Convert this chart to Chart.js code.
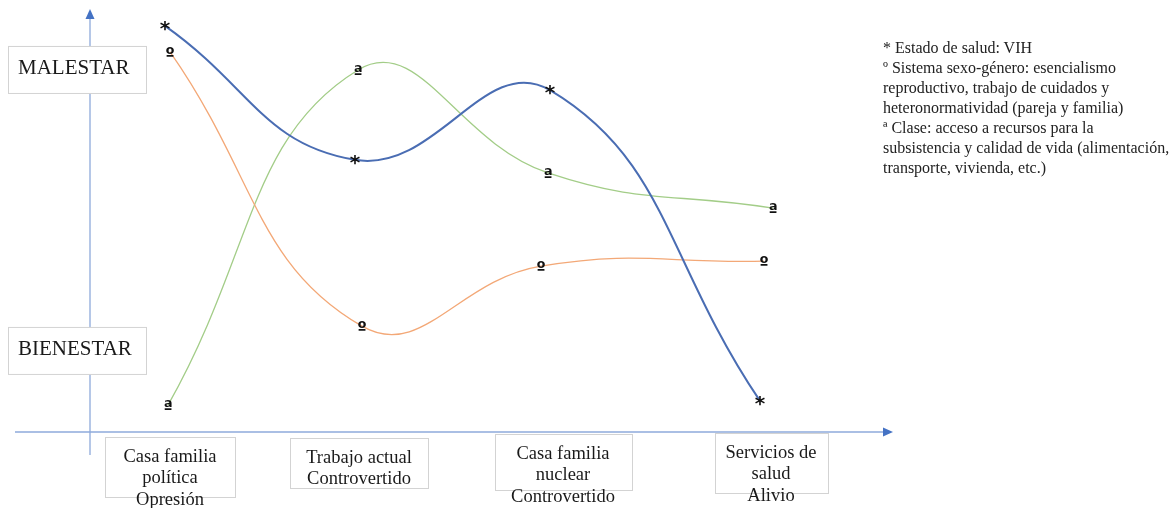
<!DOCTYPE html>
<html>
<head>
<meta charset="utf-8">
<script src="https://cdn.jsdelivr.net/npm/chart.js@4.4.1/dist/chart.umd.min.js"></script>
<style>
  html, body { margin: 0; padding: 0; background: #fff; }
  #wrap { position: relative; width: 1172px; height: 508px; }
  #notes {
    position: absolute; left: 883px; top: 38px;
    font: 16px "Liberation Serif", "Times New Roman", serif;
    line-height: 20px; color: #222; white-space: pre;
  }
</style>
</head>
<body>
<div id="wrap">
  <canvas id="myChart"></canvas>
  <div id="notes">* Estado de salud: VIH
º Sistema sexo-género: esencialismo
reproductivo, trabajo de cuidados y
heteronormatividad (pareja y familia)
ª Clase: acceso a recursos para la
subsistencia y calidad de vida (alimentación,
transporte, vivienda, etc.)</div>
</div>
<script>
// Categories (bottom boxes) and where each one sits on the x axis
const categories = [
    ['Casa familia', 'política', 'Opresión'],
    ['Trabajo actual', 'Controvertido'],
    ['Casa familia', 'nuclear', 'Controvertido'],
    ['Servicios de', 'salud', 'Alivio']
];
const categoryPos = [1.025, 1.97, 2.99, 4.03];

// Left labels (0 = bienestar ... 10 = malestar)
const levelLabels = ['MALESTAR', 'BIENESTAR'];
const levelValues = [8.62, 1.93];

// Series: Estado de salud (VIH) -> '*'
const saludX = [1.0, 1.95, 2.925, 3.975];
const saludY = [9.67, 6.48, 8.14, 0.74];
// Sistema sexo-género -> 'º'
const generoX = [1.025, 1.985, 2.88, 3.995];
const generoY = [9.05, 2.52, 3.95, 4.07];
// Clase -> 'ª'
const claseX = [1.015, 1.965, 2.915, 4.04];
const claseY = [0.64, 8.62, 6.17, 5.33];

const toPoints = (xs, ys) => xs.map((x, i) => ({ x: x, y: ys[i] }));

// Axes, label boxes and marker characters
const decor = {
    id: 'decor',
    beforeDatasetsDraw(chart) {
        const { ctx, chartArea, scales } = chart;
        const x = scales.x, y = scales.y;
        const yAxisX = x.getPixelForValue(0.625);
        const xAxisY = y.getPixelForValue(0);
        ctx.save();
        // axis lines
        ctx.strokeStyle = '#8eaadb';
        ctx.lineWidth = 1.3;
        ctx.beginPath();
        ctx.moveTo(yAxisX, 455);
        ctx.lineTo(yAxisX, 18);
        ctx.moveTo(chartArea.left, xAxisY);
        ctx.lineTo(chartArea.right - 6, xAxisY);
        ctx.stroke();
        // arrow heads
        ctx.fillStyle = '#4472c4';
        ctx.beginPath();
        ctx.moveTo(yAxisX, 9);
        ctx.lineTo(yAxisX - 4.5, 19);
        ctx.lineTo(yAxisX + 4.5, 19);
        ctx.closePath();
        ctx.fill();
        ctx.beginPath();
        ctx.moveTo(chartArea.right, xAxisY);
        ctx.lineTo(chartArea.right - 10, xAxisY - 4.5);
        ctx.lineTo(chartArea.right - 10, xAxisY + 4.5);
        ctx.closePath();
        ctx.fill();

        // level boxes
        ctx.font = '21px "Liberation Serif", serif';
        ctx.textBaseline = 'middle';
        ctx.textAlign = 'left';
        levelLabels.forEach((t, i) => {
            const cy = y.getPixelForValue(levelValues[i]);
            ctx.fillStyle = '#fff';
            ctx.fillRect(8.5, cy - 23.5, 138, 47);
            ctx.strokeStyle = '#d3d3d3';
            ctx.lineWidth = 1;
            ctx.strokeRect(8.5, cy - 23.5, 138, 47);
            ctx.fillStyle = '#1a1a1a';
            ctx.fillText(t, 18, cy - 1);
        });

        // category boxes
        const boxW = [130, 138, 137, 113];
        const boxTop = [437, 438, 434, 433];
        const boxH = [60, 50, 56, 60];
        ctx.font = '18.5px "Liberation Serif", serif';
        ctx.textAlign = 'center';
        categories.forEach((lines, i) => {
            const cx = x.getPixelForValue(categoryPos[i]);
            const left = Math.round(cx - boxW[i] / 2) + 0.5;
            ctx.fillStyle = '#fff';
            ctx.fillRect(left, boxTop[i] + 0.5, boxW[i], boxH[i]);
            ctx.strokeStyle = '#d3d3d3';
            ctx.strokeRect(left, boxTop[i] + 0.5, boxW[i], boxH[i]);
            ctx.fillStyle = '#1a1a1a';
            lines.forEach((l, j) => {
                ctx.fillText(l, cx, boxTop[i] + 20 + j * 21.5);
            });
        });
        ctx.restore();
    },
    afterDatasetsDraw(chart) {
        const { ctx } = chart;
        ctx.save();
        ctx.fillStyle = '#111';
        ctx.textAlign = 'center';
        ctx.textBaseline = 'alphabetic';
        chart.data.datasets.forEach((ds, di) => {
            const meta = chart.getDatasetMeta(di);
            ctx.font = ds.markFont;
            const m = ctx.measureText(ds.mark);
            const off = (m.actualBoundingBoxAscent - m.actualBoundingBoxDescent) / 2;
            meta.data.forEach(pt => {
                ctx.fillText(ds.mark, pt.x, pt.y + off);
            });
        });
        ctx.restore();
    }
};

const ctx = document.getElementById('myChart').getContext('2d');
new Chart(ctx, {
    type: 'line',
    data: {
        datasets: [
            {
                label: 'Estado de salud: VIH',
                data: toPoints(saludX, saludY),
                borderColor: '#4a6db3',
                borderWidth: 2,
                mark: '*',
                markFont: 'bold 20px "DejaVu Sans", sans-serif'
            },
            {
                label: 'Sistema sexo-género',
                data: toPoints(generoX, generoY),
                borderColor: '#f3a877',
                borderWidth: 1.3,
                mark: 'º',
                markFont: 'bold 17px "DejaVu Sans", sans-serif'
            },
            {
                label: 'Clase',
                data: toPoints(claseX, claseY),
                borderColor: '#a3cd88',
                borderWidth: 1.3,
                mark: 'ª',
                markFont: 'bold 17px "DejaVu Sans", sans-serif'
            }
        ]
    },
    options: {
        responsive: true,
        maintainAspectRatio: false,
        animation: false,
        layout: { padding: { left: 15, right: 279, top: 12, bottom: 76 } },
        elements: {
            line: { tension: 0.45, fill: false },
            point: { radius: 0, hoverRadius: 0 }
        },
        plugins: {
            legend: { display: false },
            tooltip: { enabled: false }
        },
        scales: {
            x: { type: 'linear', display: false, min: 0.25, max: 4.64 },
            y: { display: false, min: 0, max: 10 }
        }
    },
    plugins: [decor]
});
</script>
</body>
</html>
